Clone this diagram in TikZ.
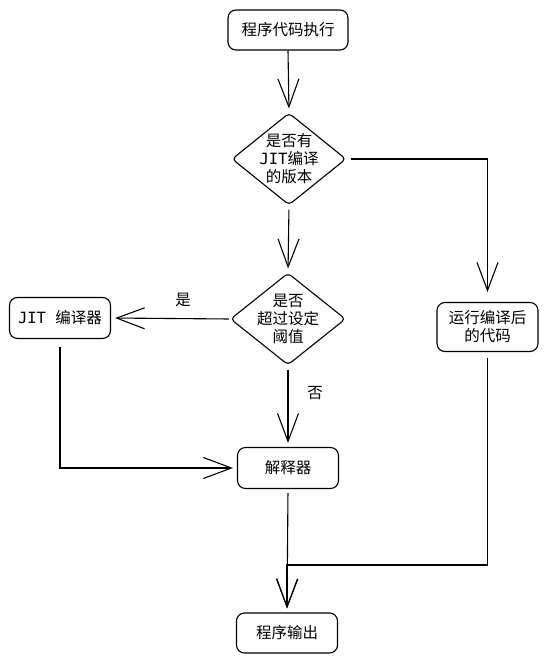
\documentclass[tikz,border=0pt]{standalone}
\usepackage{fontspec}
\setmainfont{Noto Sans CJK SC}
\newfontfamily\monofont{DejaVu Sans Mono}
\usetikzlibrary{arrows.meta,shapes.geometric}
\tikzset{
  box/.style={draw, line width=1.1pt, rounded corners=8pt, inner sep=0pt, align=center, font=\fontsize{15.5}{18}\selectfont},
  dia/.style={draw, diamond, line width=1.1pt, rounded corners=4pt, inner sep=0pt},
  txt/.style={align=center, inner sep=0pt, font=\fontsize{15.5}{18}\selectfont},
  conn/.style={line width=1.1pt, -{Straight Barb[length=28pt,width=21pt,line width=1.1pt]}, shorten <=4pt, shorten >=4pt},
  lbl/.style={font=\fontsize{15.5}{18}\selectfont, inner sep=0pt}
}
\begin{document}
\begin{tikzpicture}[x=1pt,y=-1pt]
\useasboundingbox[fill=white] (0,0) rectangle (549,663);
\node[box, minimum width=120pt, minimum height=40pt] (n1) at (288,30) {程序代码执行};
\node[dia, minimum width=114pt, minimum height=92pt] (d1) at (289,159) {};
\node[txt] (t1) at (d1.center) {是否有\\{\monofont JIT}编译\\的版本};
\node[dia, minimum width=115pt, minimum height=92pt] (d2) at (288,319) {};
\node[txt] (t2) at (d2.center) {是否\\超过设定\\阈值};
\node[box, minimum width=101pt, minimum height=41pt] (jit) at (60,318) {{\monofont JIT\ }编译器};
\node[box, minimum width=101pt, minimum height=49pt] (run) at (487.5,327) {运行编译后\\的代码};
\node[box, minimum width=101pt, minimum height=41pt] (itp) at (288,468) {解释器};
\node[box, minimum width=101pt, minimum height=40pt] (out) at (287,633) {程序输出};
\coordinate (m) at (287,565);
\node[lbl] (yes) at (183,300) {是};
\node[lbl] (no) at (315,393) {否};

\draw[conn, shorten <=0pt] (n1.south) -- (d1.north);
\draw[conn, shorten >=10pt] (d1.east) -- (d1.east -| run.north) -- (run.north);
\draw[conn] (d1.south) -- (d2.north);
\draw[conn, shorten <=1pt] (d2.west) -- (jit.east);
\draw[conn] (d2.south) -- (itp.north);
\draw[conn, shorten <=8pt] (jit.south) -- (jit.south |- itp.west) -- (itp.west);
\draw[conn] (itp.south) -- (out.north);
\draw[conn, shorten <=6pt] (run.south) -- (run.south |- m) -- (m) -- (out.north);
\end{tikzpicture}
\end{document}
